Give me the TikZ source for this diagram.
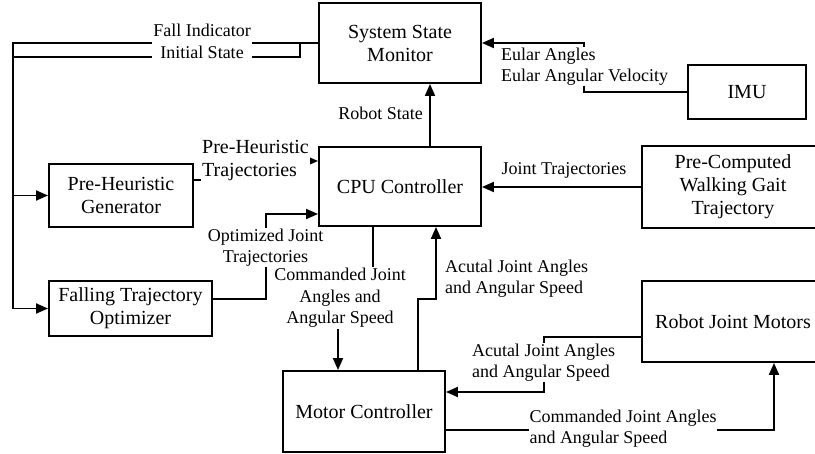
\documentclass[tikz,border=0pt]{standalone}
\usepackage{fontspec}
\setmainfont{Liberation Serif}
\usetikzlibrary{arrows.meta}
\newcommand{\boxfont}{\fontsize{20}{23}\selectfont}
\newcommand{\lblfont}{\fontsize{18}{21.5}\selectfont}
\begin{document}
\begin{tikzpicture}[x=1pt,y=-1pt,
  blk/.style={draw, line width=1.9pt, font=\boxfont, align=center, inner sep=0pt},
  lbl/.style={font=\lblfont, inner sep=1pt},
  wlbl/.style={lbl, fill=white},
  conn/.style={line width=1.9pt},
  arr/.style={conn, -{Triangle[length=12pt,width=10pt]}}]
\useasboundingbox (0,0) rectangle (815,454);
\clip (0,0) rectangle (815,454);
% blocks
\node[blk, minimum width=162, minimum height=80] (SSM) at (400,43) {System State\\Monitor};
\node[blk, minimum width=118, minimum height=54] (IMU) at (747,92) {IMU};
\node[blk, minimum width=162, minimum height=79] (CPU) at (400,186.5) {CPU Controller};
\node[blk, minimum width=182, minimum height=82] (PCW) at (733,187) {Pre-Computed\\Walking Gait\\Trajectory};
\node[blk, minimum width=144, minimum height=63] (PHG) at (121,195.5) {Pre-Heuristic\\Generator};
\node[blk, minimum width=163, minimum height=55] (FTO) at (130.5,308.5) {Falling Trajectory\\Optimizer};
\node[blk, minimum width=162, minimum height=81] (MC) at (364,411.5) {Motor Controller};
\node[blk, minimum width=182, minimum height=81] (RJM) at (733,321.5) {Robot Joint Motors};
% bend coordinates
\coordinate (xl) at (13,200);
\coordinate (j1) at (300,43);
\coordinate (j2) at (300,57);
\coordinate (b2a) at (584,92);
\coordinate (b2b) at (584,43);
\coordinate (b4a) at (256,180);
\coordinate (b4b) at (256,161);
\coordinate (b5a) at (266,299);
\coordinate (b5b) at (266,214);
\coordinate (b6a) at (373,298);
\coordinate (b6b) at (338,298);
\coordinate (b7a) at (418,299);
\coordinate (b7b) at (436,299);
\coordinate (b8a) at (544,337);
\coordinate (b8b) at (544,392);
\coordinate (b9a) at (774,430);
\coordinate (b3) at (430,100);
% connectors
\draw[arr] (SSM.west) -| (xl) |- (FTO.west);
\draw[arr] (xl |- PHG.west) -- (PHG.west);
\draw[conn] (j1) -- (j2) -- (xl |- j2);
\node[wlbl, align=center] at (202,41.5) {Fall Indicator\\Initial State};
\draw[arr] (IMU.west) -- (b2a) -- (b2b) -- (SSM.east |- b2b);
\node[wlbl, align=left] at (584.5,66.5) {Eular Angles\\Eular Angular Velocity};
\draw[arr] (CPU.north -| b3) -- (SSM.south -| b3);
\node[lbl] at (380.5,113) {Robot State};
\draw[arr] (PHG.east |- b4a) -- (b4a) -- (b4b) -- (CPU.west |- b4b);
\node[wlbl, align=left, font=\fontsize{20}{23}\selectfont] at (255.5,160.5) {Pre-Heuristic\\Trajectories};
\draw[arr] (FTO.east |- b5a) -- (b5a) -- (b5b) -- (CPU.west |- b5b);
\node[wlbl, align=center] at (265.5,247.5) {Optimized Joint\\Trajectories};
\draw[arr] (CPU.south -| b6a) -- (b6a) -- (b6b) -- (MC.north -| b6b);
\node[wlbl, align=center] at (340,298) {Commanded Joint\\Angles and\\Angular Speed};
\draw[arr] (MC.north -| b7a) -- (b7a) -- (b7b) -- (CPU.south -| b7b);
\node[lbl, align=left, anchor=west] at (444,278.5) {Acutal Joint Angles\\and Angular Speed};
\draw[arr] (RJM.west |- b8a) -- (b8a) -- (b8b) -- (MC.east |- b8b);
\node[wlbl, align=left] at (543.5,362.5) {Acutal Joint Angles\\and Angular Speed};
\draw[arr] (MC.east |- b9a) -- (b9a) -- (RJM.south -| b9a);
\node[wlbl, align=left] at (623,428.5) {Commanded Joint Angles\\and Angular Speed};
\draw[arr] (PCW.west) -- (CPU.east |- PCW.west);
\node[lbl] at (564,170) {Joint Trajectories};
\end{tikzpicture}
\end{document}
